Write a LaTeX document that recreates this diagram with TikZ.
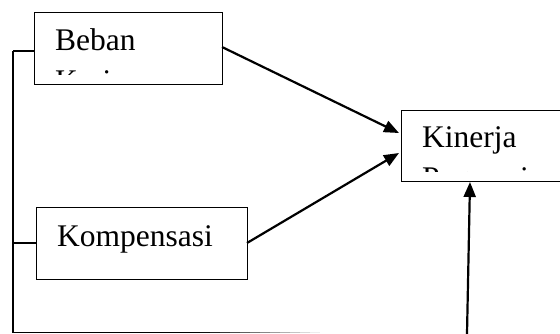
\documentclass[tikz,border=0pt]{standalone}
\usepackage{fontspec}
\setmainfont{Liberation Serif}
\usetikzlibrary{arrows.meta}
\tikzset{
  boxnode/.style={draw=black, line width=1.1pt, rectangle, inner sep=0pt, anchor=north west},
  lbl/.style={anchor=base west, inner sep=0pt, font=\fontsize{31.5}{36}\selectfont},
  conn/.style={line width=2.2pt, -{Triangle[length=15pt,width=12pt]}},
  thin line/.style={line width=1.2pt}
}
\begin{document}
\begin{tikzpicture}[x=1pt,y=-1pt]
\useasboundingbox (0,0) rectangle (560,334);
\clip (0,0) rectangle (560,334);
% boxes
\node[boxnode, minimum width=188pt, minimum height=72pt] (beban) at (34,12) {};
\node[boxnode, minimum width=211pt, minimum height=72pt] (komp) at (36,207) {};
\node[boxnode, minimum width=175pt, minimum height=71pt] (kin) at (401,110) {};
% texts
\node[lbl] (tbeban) at (55,51) {Beban};
\begin{scope}
  \clip (35,60) rectangle (221,74.5);
  \node[lbl] (tkerja) at (55,92) {Kerja};
\end{scope}
\node[lbl] (tkomp) at (57,247) {Kompensasi};
\node[lbl] (tkin) at (422,148) {Kinerja};
\begin{scope}
  \clip (402,155) rectangle (560,172);
  \node[lbl] (tpeg) at (422,189) {Pegawai};
\end{scope}
% left bracket lines
\coordinate (c1) at (13,51);
\coordinate (c2) at (13,243);
\coordinate (c3) at (13,332.5);
\coordinate (c4) at (200,332.5);
\draw[thin line] (c1) -- (c3) -- (c4);
\draw[thin line] (c1) -- (beban.west |- c1);
\draw[thin line] (c2) -- (komp.west |- c2);
\foreach \i in {0,...,11}{
  \pgfmathtruncatemacro{\shadeval}{95-\i*8}
  \draw[line width=1.2pt, black!\shadeval] (200+\i*10,332.5) -- (210+\i*10,332.5);
}
% arrows
\coordinate (s1) at (222,47);
\coordinate (e1) at (399,133);
\coordinate (s2) at (247,243);
\coordinate (e2) at (399,153);
\coordinate (s3) at (467,334);
\coordinate (e3) at (470,182);
\draw[conn] (s1) -- (e1);
\draw[conn] (s2) -- (e2);
\draw[conn] (s3) -- (e3);
\end{tikzpicture}
\end{document}
